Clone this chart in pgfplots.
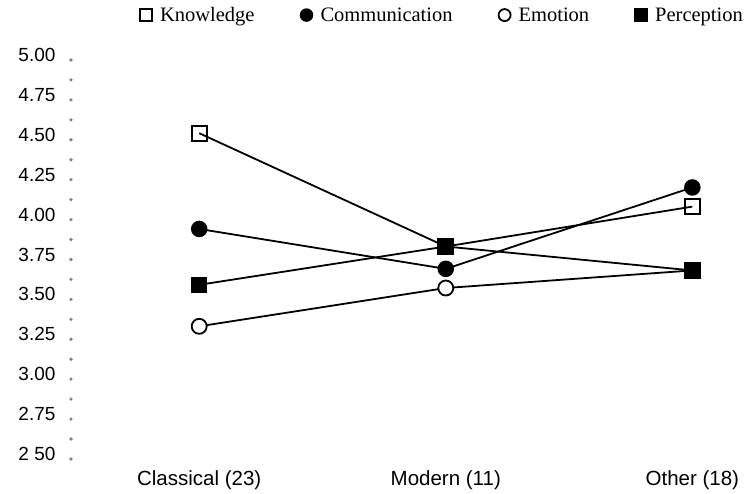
\documentclass[border=0pt]{standalone}
\usepackage{fontspec}
\setmainfont{Liberation Serif}
\newfontfamily\arial{Liberation Sans}
\usepackage{pgfplots}
\pgfplotsset{compat=1.18}
\begin{document}
\begin{tikzpicture}
\begin{axis}[
    at={(71pt,40pt)}, anchor=south west,
    scale only axis, width=646pt, height=399pt,
    xmin=-0.52, xmax=2.1, ymin=2.5, ymax=5.0,
    axis line style={draw=none},
    tick pos=left,
    xtick={0,1,2},
    xticklabels={Classical (23),Modern (11),Other (18)},
    ytick={2.5,2.75,3,3.25,3.5,3.75,4,4.25,4.5,4.75,5},
    yticklabels={2 50,2.75,3.00,3.25,3.50,3.75,4.00,4.25,4.50,4.75,5.00},
    minor y tick num=1,
    xtick style={draw=none},
    ytick style={line cap=round, yshift=-5pt, line width=3.6pt},
    major tick length=0pt, minor tick length=0pt,
    minor tick style={line width=3pt},
    yticklabel style={font=\arial\fontsize{19}{21}\selectfont, xshift=-12pt},
    xticklabel style={font=\arial\fontsize{20.5}{23}\selectfont, yshift=-13pt},
    legend style={draw=none, fill=none, at={(0.575,1.1)}, anchor=center,
        font=\fontsize{20.5}{22}\selectfont,
        /tikz/every odd column/.append style={column sep=6pt},
        /tikz/every even column/.append style={column sep=44pt}},
    legend columns=4,
    legend image code/.code={\draw[#1, mark size=6pt] plot coordinates {(0pt,0pt)};},
    every axis plot/.append style={line width=1.8pt, mark size=7.5pt,
        mark options={line width=1.5pt, solid}},
]
% Knowledge
\addplot[black, mark=square, mark options={fill=white}]
    coordinates {(0,4.51) (1,3.80) (2,4.05)};
\addlegendentry{Knowledge}
% Communication
\addplot[black, mark=*]
    coordinates {(0,3.91) (1,3.66) (2,4.17)};
\addlegendentry{Communication}
% Emotion
\addplot[black, mark=*, mark options={fill=white}]
    coordinates {(0,3.30) (1,3.54) (2,3.65)};
\addlegendentry{Emotion}
% Perception
\addplot[black, mark=square*]
    coordinates {(0,3.56) (1,3.80) (2,3.65)};
\addlegendentry{Perception}
\end{axis}
\pgfresetboundingbox
\path (0,0) rectangle (756pt,494pt);
\end{tikzpicture}
\end{document}
